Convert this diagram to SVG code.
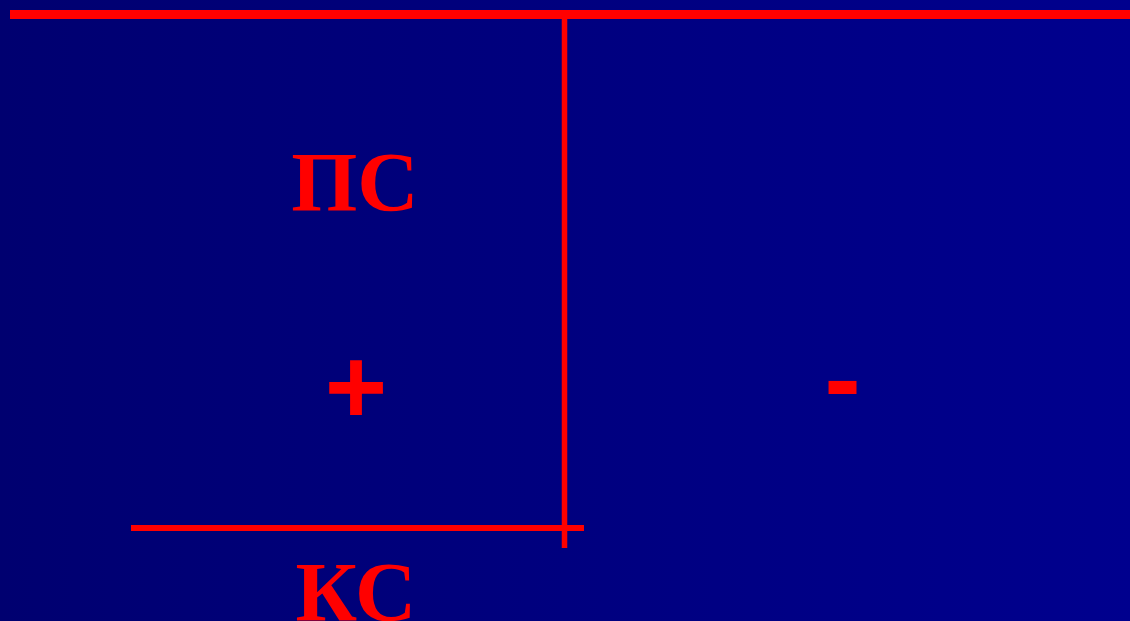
<svg xmlns="http://www.w3.org/2000/svg" width="1130" height="621" viewBox="0 0 1130 621">
<defs>
<linearGradient id="bg" x1="0" y1="0" x2="1" y2="0">
<stop offset="0" stop-color="#000070"/>
<stop offset="1" stop-color="#00008E"/>
</linearGradient>
<style>
.ln{stroke:#FF0000;fill:none}
.t{fill:#FF0000;font-family:"Liberation Serif","Times New Roman",serif;font-weight:bold;text-anchor:middle}
.s{fill:#FF0000;font-family:"Liberation Sans",Arial,sans-serif;font-weight:bold;text-anchor:middle}
</style>
</defs>
<rect x="0" y="0" width="1130" height="621" fill="url(#bg)"/>
<g id="connectors">
<line class="ln" x1="10" y1="14.5" x2="1130" y2="14.5" stroke-width="9"/>
<line class="ln" x1="564.5" y1="14" x2="564.5" y2="548" stroke-width="5.5"/>
<line class="ln" x1="131" y1="528" x2="584" y2="528" stroke-width="6"/>
</g>
<g id="ps"><text class="t" x="355" y="211" font-size="85">ПС</text></g>
<g id="plus"><text class="s" x="356" y="423" font-size="107">+</text></g>
<g id="minus"><text class="s" x="842.5" y="416" font-size="110">-</text></g>
<g id="ks"><text class="t" x="356" y="621" font-size="85">КС</text></g>
</svg>
